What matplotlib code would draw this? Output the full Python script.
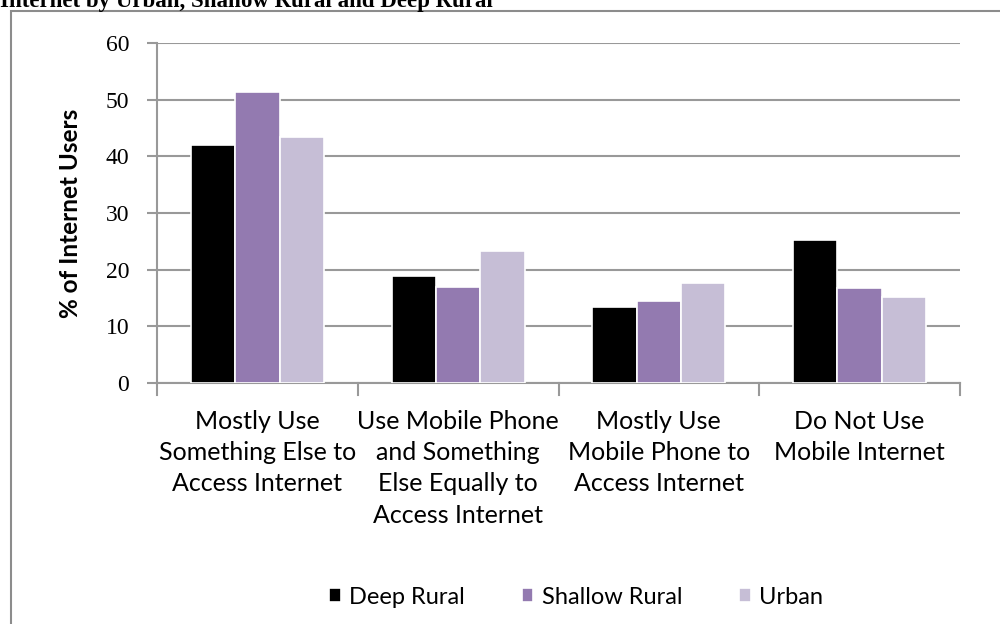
import matplotlib.pyplot as plt
import numpy as np
from matplotlib.patches import Rectangle

categories = [
    "Mostly Use\nSomething Else to\nAccess Internet",
    "Use Mobile Phone\nand Something\nElse Equally to\nAccess Internet",
    "Mostly Use\nMobile Phone to\nAccess Internet",
    "Do Not Use\nMobile Internet",
]
series_names = ["Deep Rural", "Shallow Rural", "Urban"]
deep_rural = [42.1, 18.9, 13.4, 25.2]
shallow_rural = [51.3, 16.9, 14.5, 16.8]
urban = [43.4, 23.4, 17.6, 15.2]
colors = ["#000000", "#937AB0", "#C6BED6"]
y_ticks = [0, 10, 20, 30, 40, 50, 60]

SERIF = "Liberation Serif"
SANS = "Lato"

fig = plt.figure(figsize=(10, 6.24), dpi=100)
ax = fig.add_axes([0.157, 0.386, 0.803, 0.545])

x = np.arange(len(categories))
width = 0.221
for i, (vals, name) in enumerate(zip([deep_rural, shallow_rural, urban], series_names)):
    ax.bar(x + (i - 1) * width, vals, width, color=colors[i],
           edgecolor="white", linewidth=1.2, label=name, zorder=3)

ax.set_xlim(-0.5, len(categories) - 0.5)
ax.set_ylim(0, 60)
ax.set_yticks(y_ticks)
ax.set_yticklabels([str(t) for t in y_ticks], fontfamily=SERIF, fontsize=17)
ax.yaxis.grid(True, color="#999999", linewidth=1.5, zorder=0)
ax.set_axisbelow(True)

# category labels centred, tick marks at the group boundaries
ax.set_xticks(x)
ax.set_xticklabels(categories, fontfamily=SANS, fontsize=18, linespacing=1.44)
ax.tick_params(axis="x", length=0, pad=19)
for b in np.arange(-0.5, len(categories), 1.0):
    ax.plot([b, b], [0, -0.035], transform=ax.get_xaxis_transform(),
            color="#999999", linewidth=1.5, clip_on=False)
ax.tick_params(axis="y", length=7, width=1.5, color="#999999", pad=13)

for s in ["top", "right"]:
    ax.spines[s].set_visible(False)
for s in ["left", "bottom"]:
    ax.spines[s].set_color("#999999")
    ax.spines[s].set_linewidth(1.5)

ax.set_ylabel("% of Internet Users", fontfamily=SANS, fontweight="bold",
              fontsize=17.5, labelpad=17)

fig.legend(loc="center", bbox_to_anchor=(0.576, 1 - 597 / 624), ncol=3,
           frameon=False, prop={"family": SANS, "size": 17},
           handlelength=0.5, handleheight=0.55, handletextpad=0.35,
           columnspacing=2.4)

# outer chart frame
fig.patches.append(Rectangle((0.011, -0.1), 1.2, 1.1 - 11 / 624,
                             transform=fig.transFigure, fill=False,
                             edgecolor="#8c8c8c", linewidth=1.5))

fig.text(0.0, 1 - 7 / 624, "Internet by Urban, Shallow Rural and Deep Rural",
         fontfamily=SERIF, fontweight="bold", fontsize=16.5, va="baseline", ha="left")

fig.savefig("out.png", dpi=100)
